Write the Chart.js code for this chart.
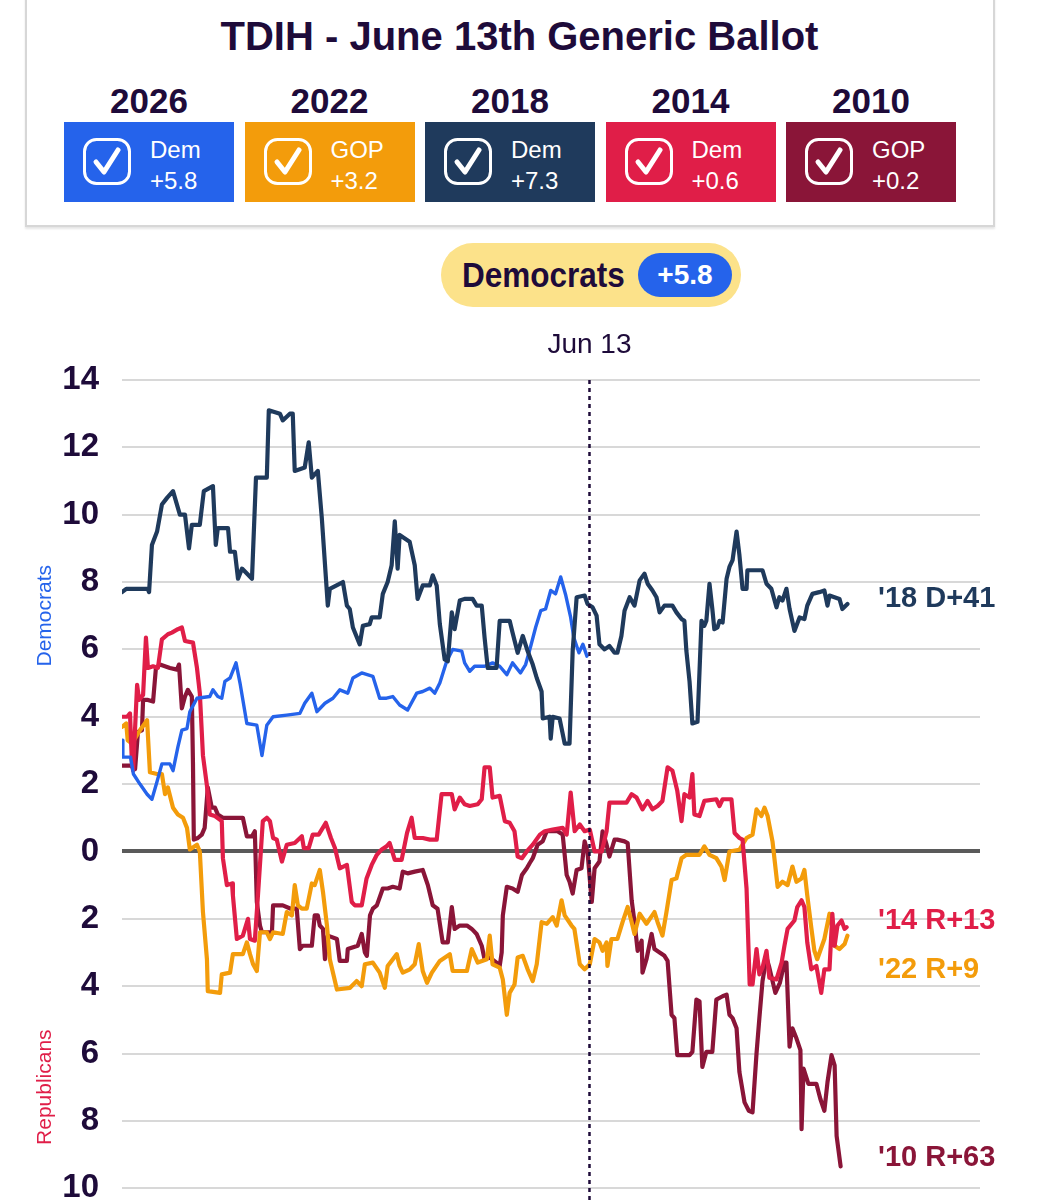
<!DOCTYPE html>
<html>
<head>
<meta charset="utf-8">
<script src="https://cdn.jsdelivr.net/npm/chart.js@4.4.1/dist/chart.umd.min.js"></script>
<style>
  body { margin: 0; background: #fff; width: 1039px; height: 1200px; overflow: hidden; position: relative;
         font-family: "Liberation Sans", Arial, sans-serif; color: #1e0b3a; }
  .card { position: absolute; left: 25px; top: -6px; width: 966px; height: 229px; border: 2px solid #d7d7d7;
          box-shadow: 0 2px 2px rgba(0,0,0,.10); }
  h1 { position: absolute; top: 13px; left: 0; width: 1039px; margin: 0; text-align: center;
       font-size: 40px; line-height: 46px; font-weight: bold; }
  .year { position: absolute; top: 81px; width: 170px; text-align: center; font-size: 35px; line-height: 40px; font-weight: bold; }
  .tile { position: absolute; top: 122px; width: 170px; height: 80px; color: #fff; }
  .tile svg { position: absolute; left: 19px; top: 16px; }
  .tile .txt { position: absolute; left: 86px; top: 12px; font-size: 24px; line-height: 31px; }
  .pill { position: absolute; left: 441px; top: 243px; width: 300px; height: 64px; border-radius: 32px; background: #fce28a; }
  .pill .lab { position: absolute; left: 21px; top: 10px; font-size: 35px; line-height: 44px; font-weight: bold;
               transform: scaleX(0.9); transform-origin: left center; }
  .pill .badge { position: absolute; left: 197px; top: 10px; width: 94px; height: 44px; border-radius: 22px;
                 background: #2563eb; color: #fff; text-align: center; font-size: 28px; line-height: 44px; font-weight: bold; }
  #c { position: absolute; left: 0; top: 310px; }
</style>
</head>
<body>
<div class="card"></div>
<h1>TDIH - June 13th Generic Ballot</h1>
<div id="tiles"></div>
<div class="pill"><span class="lab">Democrats</span><div class="badge">+5.8</div></div>
<canvas id="c" width="1039" height="921" style="width:1039px;height:921px"></canvas>

<script>
// header boxes
const years = ['2026', '2022', '2018', '2014', '2010'];
const winners = ['Dem', 'GOP', 'Dem', 'Dem', 'GOP'];
const margins = ['+5.8', '+3.2', '+7.3', '+0.6', '+0.2'];
const colors = ['#2563eb', '#f39c0b', '#1f3a5c', '#e01e48', '#8a1538'];

// generic ballot margin (D positive, R negative) by day since Jan 1
const pts2026 = [[0,3.3],[0.3,2.8],[3,2.8],[4,2.3],[6.3,2.0],[8.8,1.7],[10.5,1.55],[12.3,2.08],[14,2.6],[16.8,2.6],[17.9,2.4],[19.6,3.1],[21,3.6],[22.8,3.65],[23.8,4.15],[26.3,4.55],[30.8,4.6],[31.9,4.8],[33.6,4.6],[35,4.55],[36.1,5.05],[37.9,5.15],[40,5.6],[41.4,5.0],[43.8,3.8],[47.3,3.75],[49.1,2.85],[50.8,3.75],[53,4.0],[57.8,4.05],[62.4,4.1],[64.1,4.4],[66.6,4.7],[68.4,4.15],[71.2,4.4],[74,4.55],[76.4,4.8],[79.2,4.7],[81,5.15],[84.1,5.3],[88,5.2],[90.4,4.55],[92.8,4.55],[95,4.6],[97.4,4.35],[100.2,4.2],[103.4,4.7],[105.5,4.75],[108,4.85],[109.7,4.7],[111.5,5.0],[113.9,5.65],[116,6.0],[119.2,5.95],[120.2,5.6],[122,5.35],[123.7,5.5],[127.2,5.5],[130,5.6],[132.5,5.5],[135,5.25],[137,5.6],[139.8,5.3],[141.6,5.55],[143.4,6.1],[145.1,6.65],[146.9,7.15],[148.6,7.2],[150.4,7.75],[152.1,7.65],[153.9,8.15],[155.7,7.6],[157.4,6.95],[158.5,6.35],[160.3,5.9],[161.7,6.15],[163.1,5.8]];

const pts2022 = [[0,3.7],[1.5,3.8],[2,3.3],[3.5,3.2],[6.3,3.6],[8.8,3.9],[9.8,2.35],[12.3,2.3],[14,2.3],[15.1,1.7],[16.1,1.9],[17.9,1.3],[19.6,1.1],[21.4,1.0],[22.8,0.7],[23.8,0.06],[26.3,0.2],[27.3,0.0],[28.4,-1.8],[29.8,-3.2],[30.1,-4.15],[34.4,-4.2],[35,-3.65],[37.9,-3.6],[38.9,-3.05],[42.4,-3.05],[43.8,-2.7],[44.9,-3.05],[46,-3.35],[47.3,-3.55],[48.4,-2.4],[50.8,-2.4],[51.9,-2.6],[53,-2.4],[56.4,-2.45],[57.8,-1.8],[59.6,-1.9],[60.6,-1.0],[61.7,-1.6],[63.1,-1.7],[64.8,-1.7],[66.6,-0.95],[67.6,-1.0],[69.4,-0.55],[70.5,-1.2],[71.9,-2.2],[72.9,-3.2],[75.4,-4.1],[80,-4.05],[82.3,-3.85],[84.1,-4.0],[85.2,-3.35],[88,-3.3],[90.4,-3.6],[92.2,-4.05],[93.2,-3.4],[96.4,-3.05],[97.4,-3.4],[98.5,-3.6],[101,-3.5],[102.7,-3.35],[104.1,-2.75],[105.5,-3.55],[107,-3.9],[108.7,-3.6],[111.5,-3.25],[115,-3.05],[116,-3.55],[121,-3.55],[122.7,-2.9],[124.8,-3.3],[128,-3.2],[129,-2.5],[130,-3.35],[132.5,-3.45],[133.6,-3.8],[135,-4.85],[136,-4.2],[137.7,-3.95],[138.8,-3.15],[140.6,-3.1],[142.3,-3.5],[144.1,-3.85],[145.5,-3.35],[147.2,-2.1],[149,-2.15],[151.1,-1.95],[152.5,-2.2],[154.2,-1.45],[155.3,-1.9],[157.7,-2.2],[158.7,-2.3],[160.6,-3.35],[162.3,-3.5],[164.1,-3.35],[165.8,-2.6],[167.5,-2.7],[168.6,-2.95],[170,-2.7],[170.3,-3.4],[171.7,-2.6],[173.8,-2.6],[175.6,-2.1],[177.4,-1.65],[178.8,-2.1],[179.8,-2.45],[181.6,-1.85],[184,-2.15],[186.8,-1.8],[187.9,-2.1],[189.6,-2.5],[191,-1.8],[192.8,-0.85],[194.5,-0.8],[196.3,-0.2],[198,-0.1],[202.6,-0.1],[204.3,0.15],[206.1,-0.1],[208.5,-0.2],[210.3,-0.45],[211.4,-0.85],[213.1,0.0],[216.6,0.05],[219.1,0.4],[221.2,0.5],[222.6,1.25],[224.3,1.05],[225.4,1.3],[226.5,1.05],[228.2,0.3],[230,-1.05],[231.7,-0.9],[233.5,-1.0],[235.2,-0.45],[236.6,-0.9],[238.4,-0.8],[239.4,-0.55],[240.4,-1.3],[241.8,-2.25],[242.9,-2.95],[243.9,-3.2],[246.4,-2.6],[248.2,-1.85],[249.2,-2.25],[250,-2.8],[251.7,-2.9],[253.5,-2.75],[254.5,-2.5]];

const pts2018 = [[0,7.7],[1.5,7.8],[9,7.8],[9.5,7.7],[10.5,9.1],[12.3,9.5],[14,10.3],[15.8,10.5],[17.9,10.7],[20.3,10.0],[22.1,10.0],[23.5,9.0],[24.5,9.7],[27.3,9.7],[28.7,10.7],[31.9,10.85],[32.9,9.1],[33.6,9.6],[37.2,9.6],[37.9,8.9],[39.6,8.9],[40.7,8.1],[42.1,8.4],[45.6,8.1],[47,11.1],[50.8,11.1],[51.5,13.1],[55.4,13.0],[56.4,12.8],[58.9,13.0],[59.9,13.0],[60.6,11.3],[64.1,11.4],[65.5,12.15],[66.6,11.1],[68.7,11.3],[70.1,9.9],[72.2,7.3],[72.9,7.8],[77.5,8.0],[78.9,7.3],[79.9,7.2],[81,6.65],[83.4,6.15],[84.5,6.7],[86.9,6.75],[87.6,6.95],[90.4,6.95],[91.5,7.65],[93.2,8.0],[94.6,8.5],[95.7,9.8],[96.7,8.4],[97.4,9.4],[100.9,9.2],[102.7,8.5],[103.7,7.5],[105.5,7.9],[108,7.9],[109,8.2],[110.4,7.9],[111.5,6.75],[113.2,5.7],[114.3,5.65],[115.7,7.1],[116.7,6.6],[118.5,7.45],[120.2,7.5],[123,7.5],[124.4,7.3],[126.2,7.3],[127.2,6.35],[128.3,5.45],[131.4,5.45],[132.5,6.85],[136,6.85],[137,6.5],[138.8,5.9],[140.6,6.4],[142.3,5.95],[144.1,5.55],[145.5,5.15],[147.2,4.75],[147.6,3.95],[150,4.0],[150.4,3.35],[151.1,4.0],[153.5,3.95],[155.3,3.2],[157,3.2],[158.1,5.95],[159.5,7.55],[162.3,7.6],[163.3,7.35],[165.1,7.25],[166.5,7.0],[167.5,6.15],[169.3,6.0],[171,6.1],[172.8,5.9],[173.8,5.9],[175.2,6.4],[176.3,7.15],[178.1,7.55],[179.8,7.3],[181.6,8.05],[183.3,8.25],[184.4,7.95],[186.1,7.75],[187.5,7.55],[188.6,7.1],[190.3,7.3],[193.1,7.3],[194.5,7.1],[196.3,6.9],[197.3,6.85],[198,5.95],[199.1,5.05],[200.1,3.8],[201.9,3.85],[203.3,6.85],[204.3,6.7],[205,6.85],[206.1,7.95],[207.1,7.2],[207.8,6.6],[208.9,6.65],[209.6,6.85],[210.7,6.8],[212.1,8.1],[213.1,8.45],[214.2,8.65],[215.6,9.5],[216.6,8.8],[217.7,7.8],[219.1,7.8],[219.4,8.35],[221.9,8.35],[224.7,8.35],[226.1,7.95],[227.8,7.8],[229.6,7.25],[230.6,7.55],[231.7,7.45],[233.1,7.8],[234.2,7.2],[235.9,6.55],[237.7,6.95],[239.4,6.9],[240.4,7.3],[242.2,7.65],[244.6,7.7],[246.4,7.75],[247.5,7.3],[248.2,7.6],[251.7,7.5],[252.7,7.2],[254.5,7.35]];

const pts2014 = [[0,4.0],[1.8,4.0],[2.8,4.1],[3.5,2.6],[3.9,2.4],[5.3,4.95],[6,4.5],[7.4,4.65],[8.4,6.35],[9.1,5.45],[10.9,5.5],[12.6,5.45],[14,6.3],[16.1,6.45],[17.5,6.5],[19.6,6.6],[21,6.65],[22.1,6.25],[24.9,6.2],[26.3,5.45],[27.3,4.7],[28.4,2.85],[29.8,1.95],[30.8,1.1],[32.6,1.05],[35,0.9],[35.4,-0.2],[36.8,-1.0],[38.6,-0.95],[38.9,-1.3],[40.3,-2.6],[42.4,-2.5],[44.2,-2.0],[44.9,-2.6],[46.6,-2.65],[47.7,-1.3],[49.4,0.9],[50.8,1.0],[51.9,0.9],[53,0.4],[54.3,0.35],[56.1,-0.3],[57.8,0.2],[60.6,0.25],[63.1,0.45],[63.8,0.1],[65.5,0.1],[66.9,0.5],[69,0.5],[71.5,0.85],[73.3,0.4],[74.7,0.1],[76.4,-0.5],[78.9,-0.4],[80.6,-1.5],[81.7,-1.6],[84.1,-1.6],[85.8,-0.8],[87.6,-0.4],[89.4,-0.1],[91.1,0.06],[92.8,0.15],[93.9,0.25],[95.7,-0.25],[98.1,-0.25],[100,0.55],[101.6,1.0],[102.7,0.4],[105.5,0.4],[108,0.35],[110.4,0.35],[112.1,1.7],[115.7,1.7],[116.7,1.25],[118.5,1.6],[120.2,1.4],[122,1.35],[124.8,1.4],[126.2,1.55],[127.2,2.5],[129,2.5],[130,1.6],[132.5,1.65],[134.3,0.9],[136,0.85],[137.7,0.6],[138.8,-0.15],[140.3,-0.2],[142,0.0],[144.1,0.2],[146.6,0.5],[148.3,0.6],[151.1,0.65],[154.6,0.7],[156,0.5],[157.4,1.75],[158.8,0.6],[160.6,0.8],[162.3,0.6],[164.1,0.65],[165.8,0.0],[168.3,0.0],[170,0.6],[171,1.45],[177,1.45],[178.8,1.7],[180.5,1.6],[182.6,1.25],[184.4,1.5],[186.1,1.25],[187.9,1.35],[189.6,1.5],[191.4,2.5],[193.1,2.4],[194.8,1.8],[196.3,0.9],[197.3,1.7],[199.1,1.6],[200.1,2.3],[200.8,1.1],[202.6,1.05],[204.3,1.5],[208.5,1.55],[209.6,1.35],[210.7,1.55],[213.8,1.55],[214.9,0.55],[216.6,0.4],[217.7,0.35],[219.1,-1.1],[220.2,-3.95],[221.2,-3.95],[222.6,-2.9],[223.6,-3.65],[224.7,-3.45],[226.1,-2.95],[227.1,-3.75],[229.6,-3.8],[231.4,-3.3],[232.4,-2.8],[233.5,-2.3],[235.9,-2.05],[236.9,-1.65],[238.4,-1.45],[239.4,-1.65],[240.4,-2.7],[241.8,-3.5],[243.6,-3.4],[245.3,-4.2],[246.4,-3.5],[248.2,-3.5],[249.2,-1.85],[250,-2.8],[251,-2.2],[252.4,-2.05],[253.5,-2.3],[254.2,-2.25]];

const pts2010 = [[0,2.55],[3,2.55],[4.6,2.45],[5.6,3.55],[7,3.6],[7.4,4.5],[9.1,4.5],[10.9,4.45],[11.9,5.45],[13.3,5.55],[16.8,5.45],[19.3,5.4],[20,5.55],[21,4.25],[22.1,4.6],[23.1,4.8],[24.5,4.6],[24.9,2.6],[25.2,0.35],[26.6,0.4],[28,0.5],[29,0.7],[30.1,1.9],[31.5,1.3],[32.6,1.3],[33.6,1.1],[35.4,1.0],[42.4,1.0],[43.8,0.45],[45.6,0.45],[46.6,0.6],[47.3,-1.5],[48.4,-2.2],[49.1,-2.4],[52.6,-2.4],[53,-1.6],[56.4,-1.6],[59.2,-1.7],[61.3,-1.7],[62.4,-2.9],[63.4,-2.8],[66.6,-2.8],[67.6,-1.9],[68.7,-1.9],[69.4,-2.2],[70.5,-2.3],[71.2,-3.2],[72.2,-2.5],[75.4,-2.6],[76.4,-3.25],[78.9,-3.25],[79.2,-2.9],[82.7,-2.8],[84.1,-2.45],[85.2,-3.0],[85.9,-3.1],[87,-1.9],[88,-1.7],[89.4,-1.6],[91.5,-1.1],[93.2,-1.1],[95,-1.05],[97.4,-1.1],[98.5,-0.6],[100.2,-0.65],[102.7,-0.6],[105.5,-0.55],[107.3,-1.0],[109,-1.6],[110.7,-1.7],[112.5,-2.7],[114.3,-2.7],[115.7,-1.65],[116.7,-2.3],[118.5,-2.2],[121,-2.2],[122.7,-2.3],[124.4,-2.45],[126.2,-2.8],[127.2,-3.2],[129,-3.15],[131.4,-3.3],[132.5,-3.4],[133.2,-3.0],[133.6,-1.9],[135,-1.05],[137,-1.1],[138.8,-1.2],[140.3,-0.7],[142,-0.5],[143,-0.35],[144.1,-0.2],[145.8,0.2],[147.6,0.3],[149,0.6],[152.8,0.6],[154.6,0.5],[156,-0.7],[157,-0.9],[158.1,-1.25],[159.5,-0.55],[161.2,-0.5],[162.3,0.3],[163.3,0.0],[164.8,-1.5],[165.8,-0.5],[167.5,-0.3],[168.6,0.6],[170,0.2],[171,-0.15],[172.8,0.35],[173.8,0.35],[176.3,0.3],[177.4,0.25],[178.8,-1.45],[179.8,-2.1],[180.9,-2.95],[182.3,-2.65],[182.6,-3.6],[184,-3.2],[185.8,-2.45],[186.8,-2.9],[188.6,-3.0],[190.3,-3.1],[191.4,-3.25],[192.8,-4.85],[193.8,-4.95],[194.8,-6.05],[199.1,-6.05],[200.1,-5.95],[201.5,-4.4],[202.6,-4.45],[203.6,-6.4],[205,-5.95],[207.1,-5.95],[208.5,-4.4],[210.7,-4.3],[212.1,-4.25],[213.1,-4.85],[214.2,-4.95],[215.6,-5.25],[216.6,-6.55],[218.4,-7.45],[219.9,-7.7],[221.2,-7.75],[222.6,-6.0],[223.6,-4.95],[224.7,-3.85],[226.1,-3.15],[227.1,-3.45],[229.2,-4.2],[230.8,-3.9],[232.4,-3.3],[233.1,-3.3],[234.2,-5.8],[235.2,-5.25],[236.6,-5.55],[238,-5.9],[238.4,-8.25],[239.1,-6.45],[240.8,-6.9],[243.6,-6.9],[245,-7.35],[246.4,-7.7],[247.5,-6.85],[248.9,-6.05],[250,-6.35],[250.7,-8.45],[252.1,-9.35]];

const endLabels = ["'18 D+41", "'26", "'14 R+13", "'22 R+9", "'10 R+63"];
const markerDay = 164;
const markerText = 'Jun 13';

// ---- header tiles ----
const check = '<svg width="48" height="47" viewBox="0 0 48 47"><rect x="1.5" y="1.5" width="45" height="44" rx="12" fill="none" stroke="#fff" stroke-width="3"/>' +
  '<path d="M13 24 L21 34 L35 12" fill="none" stroke="#fff" stroke-width="5" stroke-linecap="round" stroke-linejoin="round"/></svg>';
const tiles = document.getElementById('tiles');
years.forEach((y, i) => {
  const left = 64 + i * 180.5;
  tiles.insertAdjacentHTML('beforeend',
    `<div class="year" style="left:${left}px">${y}</div>` +
    `<div class="tile" style="left:${left}px;background:${colors[i]}">${check}<div class="txt">${winners[i]}<br>${margins[i]}</div></div>`);
});

// ---- chart ----
const toXY = arr => arr.map(([x, y]) => ({ x, y }));
const series = [
  { data: pts2018, color: colors[2], label: endLabels[0], nudge: -5 },
  { data: pts2026, color: colors[0], label: null, width: 3.4 },
  { data: pts2014, color: colors[3], label: endLabels[2], nudge: -6 },
  { data: pts2022, color: colors[1], label: endLabels[3], nudge: 34 },
  { data: pts2010, color: colors[4], label: endLabels[4], nudge: -8 },
];

const overlay = {
  id: 'overlay',
  afterDatasetsDraw(chart) {
    const { ctx, chartArea: a, scales: { x, y } } = chart;
    ctx.save();
    // Jun 13 marker
    const mx = x.getPixelForValue(markerDay);
    ctx.strokeStyle = '#1e0b3a';
    ctx.lineWidth = 2.5;
    ctx.setLineDash([4, 4]);
    ctx.beginPath();
    ctx.moveTo(mx, a.top);
    ctx.lineTo(mx, chart.height);
    ctx.stroke();
    ctx.setLineDash([]);
    ctx.fillStyle = '#1e0b3a';
    ctx.font = '28px "Liberation Sans", Arial, sans-serif';
    ctx.textAlign = 'center';
    ctx.textBaseline = 'alphabetic';
    ctx.fillText(markerText, mx, a.top - 27);

    // end labels
    ctx.font = 'bold 29px "Liberation Sans", Arial, sans-serif';
    ctx.textAlign = 'left';
    ctx.textBaseline = 'middle';
    series.forEach(s => {
      if (!s.label) return;
      const last = s.data[s.data.length - 1];
      ctx.fillStyle = s.color;
      ctx.fillText(s.label, a.right - 102, y.getPixelForValue(last[1]) + s.nudge);
    });

    // side titles
    ctx.font = '21px "Liberation Sans", Arial, sans-serif';
    ctx.textAlign = 'center';
    [['Democrats', 7, '#2563eb'], ['Republicans', -7, '#e01e48']].forEach(([t, v, c]) => {
      ctx.save();
      ctx.translate(45, y.getPixelForValue(v));
      ctx.rotate(-Math.PI / 2);
      ctx.fillStyle = c;
      ctx.fillText(t, 0, 0);
      ctx.restore();
    });
    ctx.restore();
  },
};

new Chart(document.getElementById('c'), {
  type: 'line',
  data: {
    datasets: series.map(s => ({
      data: toXY(s.data),
      borderColor: s.color,
      borderWidth: s.width || 4.2,
      pointRadius: 0,
      tension: 0,
      borderJoinStyle: 'round',
      borderCapStyle: 'round',
      fill: false,
    })),
  },
  options: {
    responsive: false,
    animation: false,
    layout: { padding: { top: 70, right: 59, bottom: 22, left: 0 } },
    plugins: { legend: { display: false }, tooltip: { enabled: false } },
    scales: {
      x: { type: 'linear', min: 0, max: 301, display: false },
      y: {
        min: -10, max: 14,
        afterFit: s => { s.width = 122; },
        border: { display: false },
        grid: {
          drawTicks: false,
          color: c => (c.tick && c.tick.value === 0 ? '#5a5a5a' : '#d8d8d8'),
          lineWidth: c => (c.tick && c.tick.value === 0 ? 4 : 2),
        },
        ticks: {
          stepSize: 2,
          padding: 23,
          color: '#1e0b3a',
          font: { family: '"Liberation Sans", Arial, sans-serif', size: 33, weight: 'bold' },
          callback: v => Math.abs(v),
        },
      },
    },
  },
  plugins: [overlay],
});
</script>
</body>
</html>
